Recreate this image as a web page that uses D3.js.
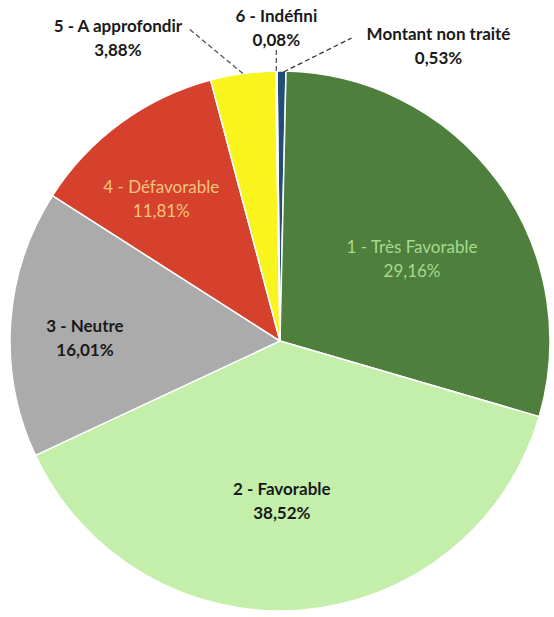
<!DOCTYPE html>
<html>
<head>
<meta charset="utf-8">
<script src="https://cdn.jsdelivr.net/npm/d3@7"></script>
<style>
  html, body { margin: 0; padding: 0; background: #fff; }
  svg { display: block; }
</style>
</head>
<body>
<svg id="chart" width="554" height="617"></svg>
<script>
// Répartition des montants par avis (sens horaire depuis midi)
const categories = [
  "Montant non traité",
  "1 - Très Favorable",
  "2 - Favorable",
  "3 - Neutre",
  "4 - Défavorable",
  "5 - A approfondir",
  "6 - Indéfini"
];
const shares = [0.53, 29.16, 38.52, 16.01, 11.81, 3.88, 0.08];
const shareLabels = ["0,53%", "29,16%", "38,52%", "16,01%", "11,81%", "3,88%", "0,08%"];

const fills = ["#1f4e79", "#4e7f3c", "#c3efab", "#ababab", "#d6412d", "#faf41e", "#7f7f7f"];
const textFills = ["#1a1a1a", "#a9d98f", "#1a1a1a", "#1a1a1a", "#f3c47e", "#1a1a1a", "#1a1a1a"];
const textWeights = [700, 400, 700, 700, 400, 700, 700];

const svg = d3.select("#chart");
const cx = 280, cy = 341, radius = 270;
const rot = -0.011; // léger décalage de l'angle de départ

const pie = d3.pie()
  .sort(null)
  .value(d => d)
  .startAngle(rot)
  .endAngle(2 * Math.PI + rot);

const arcs = pie(shares);
const arc = d3.arc().innerRadius(0).outerRadius(radius);

const defs = svg.append("defs");
const g = svg.append("g").attr("transform", `translate(${cx},${cy})`);

g.selectAll("path.slice")
  .data(arcs)
  .join("path")
  .attr("class", "slice")
  .attr("d", arc)
  .attr("fill", (d, i) => fills[i])
  .attr("stroke", "#ffffff")
  .attr("stroke-width", 1.5)
  .attr("stroke-linejoin", "round");

// Étiquettes intérieures : centroïde d'un arc intermédiaire, plus un petit ajustement
const labelArc = d3.arc().innerRadius(radius * 0.62).outerRadius(radius * 0.62);
const insideNudge = { 1: [-3, 23], 2: [-11, -1], 3: [-28, 14], 4: [-20, -1] };

// Étiquettes extérieures : position relative au point de l'arc, avec trait de rappel
const outerArc = d3.arc().innerRadius(radius).outerRadius(radius);
const outside = {
  0: { label: [157, -19], lead: [70, -33], from: [2, 1], fade: true },
  5: { label: [-125, -30], lead: [-53, -44], from: [0, 0] },
  6: { label: [0, -37], lead: [0, -21], from: [0, 0] }
};

const font = "Lato, 'Open Sans', sans-serif";
const lineGap = 24;

arcs.forEach((a, i) => {
  let x, y;
  if (outside[i]) {
    const [px, py] = outerArc.centroid(a);
    const o = outside[i];
    const x1 = px + o.from[0], y1 = py + o.from[1];
    const x2 = px + o.lead[0], y2 = py + o.lead[1];
    let stroke = "#555555";
    if (o.fade) {
      const id = "fade" + i;
      const grad = defs.append("linearGradient")
        .attr("id", id)
        .attr("gradientUnits", "userSpaceOnUse")
        .attr("x1", cx + x1).attr("y1", cy + y1)
        .attr("x2", cx + x2).attr("y2", cy + y2);
      grad.append("stop").attr("offset", "0%").attr("stop-color", "#333333");
      grad.append("stop").attr("offset", "100%").attr("stop-color", "#dddddd");
      stroke = `url(#${id})`;
    }
    g.append("line")
      .attr("x1", x1).attr("y1", y1)
      .attr("x2", x2).attr("y2", y2)
      .attr("stroke", stroke)
      .attr("stroke-width", 1.3)
      .attr("stroke-dasharray", "5,3");
    x = px + o.label[0];
    y = py + o.label[1];
  } else {
    const [px, py] = labelArc.centroid(a);
    const n = insideNudge[i];
    x = px + n[0];
    y = py + n[1];
  }
  const t = g.append("text")
    .attr("x", x)
    .attr("y", y - lineGap / 2)
    .attr("text-anchor", "middle")
    .attr("font-family", font)
    .attr("font-size", 17)
    .attr("font-weight", textWeights[i])
    .attr("fill", textFills[i]);
  t.append("tspan").attr("x", x).text(categories[i]);
  t.append("tspan").attr("x", x).attr("dy", lineGap).text(shareLabels[i]);
});
</script>
</body>
</html>
